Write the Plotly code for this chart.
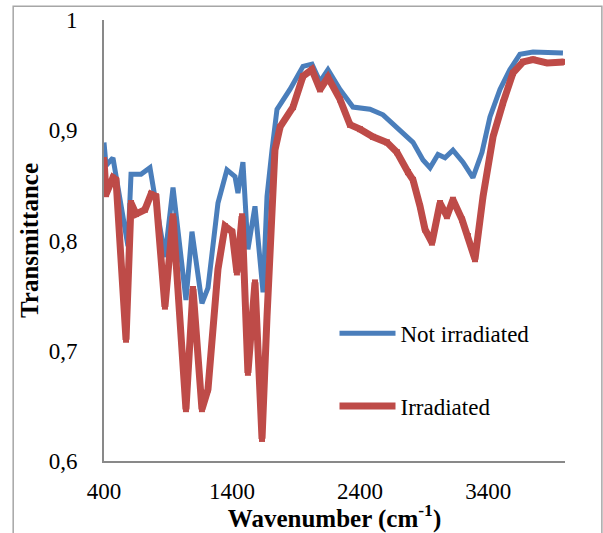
import plotly.graph_objects as go

# Not irradiated (blue)
wn_not = [400, 416, 470, 587, 611, 689, 759, 876, 939, 1040, 1087, 1165, 1212, 1290,
          1360, 1423, 1446, 1485, 1524, 1579, 1642, 1673, 1712, 1751, 1852, 1954, 2024,
          2087, 2149, 2243, 2344, 2477, 2579, 2688, 2774, 2813, 2891, 2946, 3008, 3063,
          3125, 3203, 3281, 3352, 3414, 3492, 3570, 3648, 3750, 3883, 3984]
t_not = [0.889, 0.868, 0.875, 0.795, 0.860, 0.860, 0.866, 0.785, 0.848, 0.746, 0.808,
         0.743, 0.757, 0.834, 0.864, 0.858, 0.843, 0.871, 0.792, 0.831, 0.753, 0.840,
         0.882, 0.919, 0.937, 0.958, 0.960, 0.944, 0.955, 0.937, 0.921, 0.919, 0.914,
         0.903, 0.894, 0.889, 0.873, 0.866, 0.878, 0.875, 0.882, 0.871, 0.857, 0.880,
         0.912, 0.937, 0.955, 0.969, 0.971, 0.971, 0.970]

# Irradiated (red)
wn_irr = [400, 416, 470, 494, 572, 611, 650, 720, 767, 806, 876, 939, 1040, 1095, 1165,
          1212, 1290, 1345, 1400, 1438, 1478, 1524, 1579, 1634, 1673, 1735, 1775, 1876,
          1954, 2024, 2087, 2149, 2243, 2321, 2399, 2500, 2610, 2688, 2774, 2813, 2868,
          2907, 2961, 3024, 3078, 3125, 3196, 3242, 3297, 3360, 3438, 3516, 3594, 3672,
          3750, 3860, 3990]
t_irr = [0.873, 0.842, 0.857, 0.855, 0.710, 0.834, 0.824, 0.828, 0.842, 0.840, 0.740,
         0.822, 0.647, 0.756, 0.647, 0.665, 0.774, 0.813, 0.808, 0.771, 0.822, 0.680,
         0.762, 0.620, 0.731, 0.882, 0.903, 0.921, 0.949, 0.955, 0.937, 0.948, 0.928,
         0.905, 0.901, 0.894, 0.889, 0.880, 0.862, 0.855, 0.831, 0.810, 0.798, 0.834,
         0.822, 0.837, 0.819, 0.804, 0.783, 0.840, 0.894, 0.925, 0.952, 0.962, 0.964,
         0.961, 0.962]

x_ticks = [400, 1400, 2400, 3400]
x_ticktext = ["400", "1400", "2400", "3400"]
y_ticks = [0.6, 0.7, 0.8, 0.9, 1.0]
y_ticktext = ["0,6", "0,7", "0,8", "0,9", "1"]

SERIF = "Liberation Serif, Times New Roman, serif"

fig = go.Figure()
fig.add_trace(go.Scatter(
    x=wn_not, y=t_not, name="Not irradiated", mode="lines",
    line=dict(color="#4A7EBB", width=5), legendgroup="a"))
fig.add_trace(go.Scatter(
    x=wn_irr, y=t_irr, name="Irradiated", mode="lines+markers",
    line=dict(color="#BE4B48", width=7),
    marker=dict(symbol="square", size=6, color="#BE4B48"), legendgroup="b"))

fig.update_layout(
    width=603, height=533,
    margin=dict(l=104, r=38, t=20, b=72),
    paper_bgcolor="white", plot_bgcolor="white",
    font=dict(family=SERIF, size=23, color="black"),
    showlegend=True,
    legend=dict(x=0.5, y=0.207, xanchor="left", yanchor="middle",
                bgcolor="rgba(0,0,0,0)", font=dict(size=23, family=SERIF),
                itemwidth=56,
                traceorder="grouped", tracegroupgap=40),
    shapes=[dict(type="rect", xref="paper", yref="paper",
                 x0=-0.197, x1=1.08, y0=-0.2, y1=1.031,
                 line=dict(color="#A6A6A6", width=1.5), layer="below")],
)
fig.update_xaxes(
    range=[400, 4000], tickvals=x_ticks, ticktext=x_ticktext,
    showgrid=False, zeroline=False, showline=True, linecolor="#898989", linewidth=2,
    ticks="", ticklabelstandoff=8, automargin=False,
    title=dict(text="<b>Wavenumber (cm<sup>-1</sup>)</b>", font=dict(size=25, family=SERIF), standoff=0),
)
fig.update_yaxes(
    range=[0.6, 1.0], tickvals=y_ticks, ticktext=y_ticktext,
    showgrid=False, zeroline=False, showline=True, linecolor="#898989", linewidth=2,
    ticks="", ticklabelstandoff=20, automargin=False,
    title=dict(text="<b>Transmittance</b>", font=dict(size=25, family=SERIF), standoff=3),
)

fig.write_html("out.html")
